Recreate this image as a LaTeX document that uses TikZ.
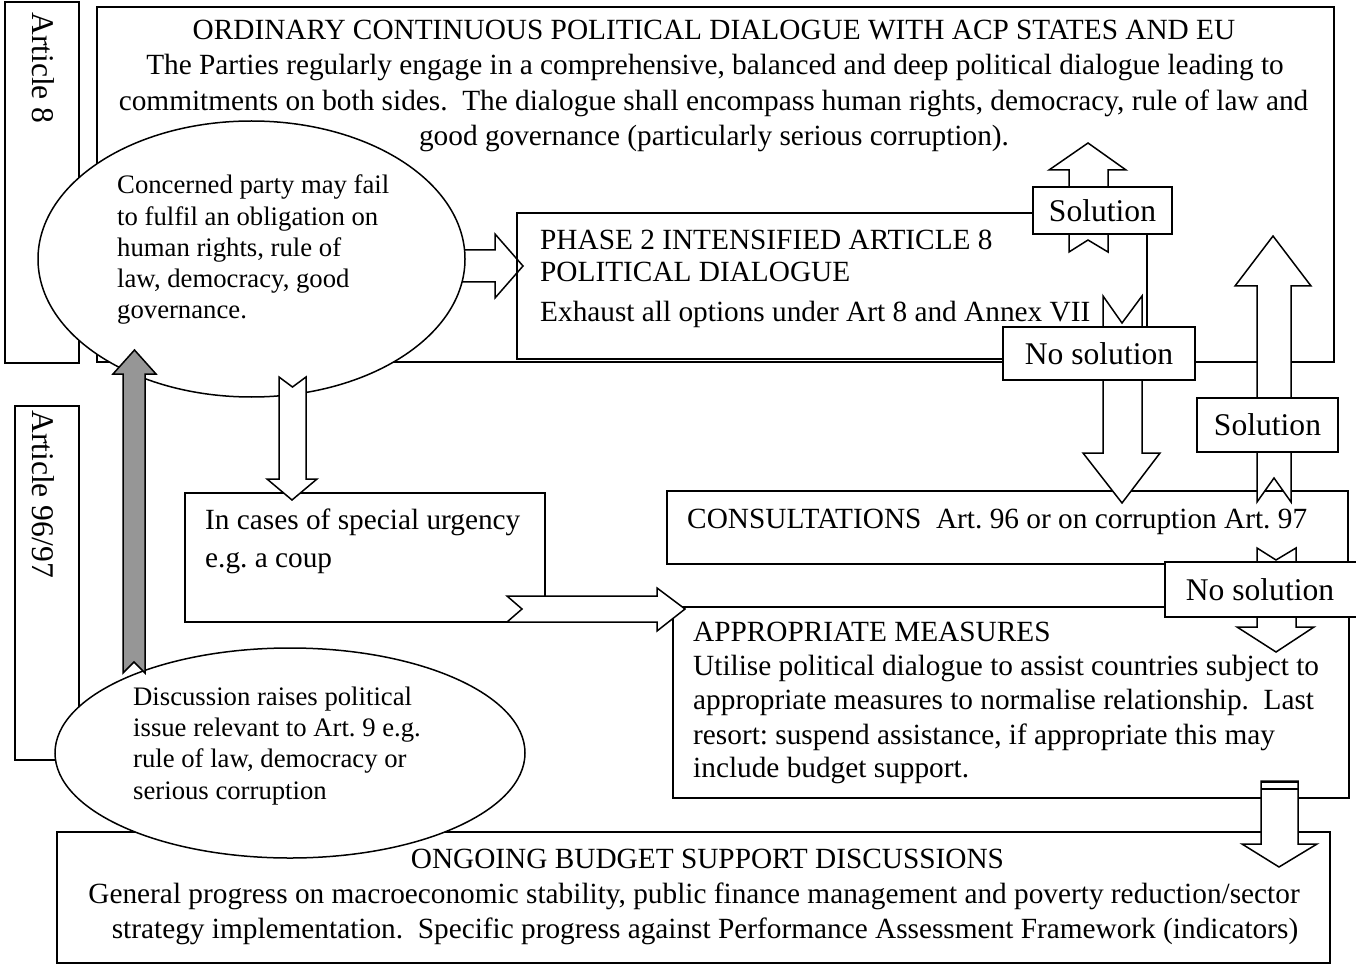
\documentclass[tikz,border=0pt]{standalone}
\usepackage{fontspec}
\setmainfont{Liberation Serif}
\usetikzlibrary{shapes.geometric,fit}
\definecolor{arrgrey}{RGB}{150,150,150}
\frenchspacing
\begin{document}
\begin{tikzpicture}[x=1pt,y=-1pt,
  box/.style={draw, line width=1.5pt, inner sep=0pt, outer sep=0pt},
  blk/.style={draw, line width=1.5pt, fill=white, line join=miter},
  oval/.style={ellipse, draw, fill=white, line width=1.5pt, inner sep=0pt},
  big/.style={font=\fontsize{29.3}{35}\selectfont, inner sep=0pt},
  small/.style={font=\fontsize{26.7}{30}\selectfont, inner sep=0pt},
  lab/.style={font=\fontsize{31.6}{38}\selectfont, inner sep=0pt},
  tag/.style={box, fill=white, lab}]
\useasboundingbox (0,0) rectangle (1356,965);

% main frames
\node[box, fit={(97,7) (1334,362)}] (main) {};
\node[box, fit={(5,2) (79,363)}] (art8) {};
\node[box, fit={(15,406) (79,760)}] (art96) {};

% arrow ellipse -> phase 2
\path[blk] (440,250) -- (495,250) -- (495,234) -- (523,266) -- (495,298) -- (495,282) -- (440,282) -- cycle;
\node[box, fit={(517,213) (1147,359)}] (phase) {};

% upper ellipse
\node[oval, minimum width=427pt, minimum height=276pt] (e1) at (251.5,259) {};

% lower boxes
\node[box, fit={(185,493) (545,622)}] (urg) {};
\node[box, fit={(667,491) (1348,564)}] (cons) {};
\node[box, fit={(673,607) (1349,798)}] (appr) {};
\node[box, fit={(57,832) (1330,963)}] (ongo) {};

% down arrow ellipse -> urgency
\path[blk] (279,377) -- (292.5,387) -- (306,377) -- (306,479) -- (317,479) -- (292,500) -- (267,479) -- (279,479) -- cycle;

% lower ellipse
\node[oval, minimum width=470pt, minimum height=210pt] (e2) at (290,753) {};

% grey arrow
\path[blk, fill=arrgrey] (123,673) -- (134,662) -- (145,673) -- (145,374) -- (156,374) -- (134.5,350) -- (113,374) -- (123,374) -- cycle;

% chevron arrow urgency -> appropriate measures
\path[blk] (507,596) -- (657,596) -- (657,588) -- (685,609) -- (657,631) -- (657,622) -- (507,622) -- (522,609) -- cycle;

% solution / no solution arrows
\path[blk] (1069,252) -- (1088,240) -- (1108,252) -- (1108,170) -- (1126,170) -- (1088,143) -- (1049,170) -- (1069,170) -- cycle;
\path[blk] (1103,296) -- (1122,323) -- (1142,296) -- (1142,453) -- (1160,453) -- (1122,503) -- (1083,453) -- (1103,453) -- cycle;
\path[blk] (1257,502) -- (1274,478) -- (1291,502) -- (1291,286) -- (1311,286) -- (1273,236) -- (1235,286) -- (1257,286) -- cycle;
\path[blk] (1257,548) -- (1276,560) -- (1296,548) -- (1296,627) -- (1314,627) -- (1276,652) -- (1237,627) -- (1257,627) -- cycle;

% arrow appropriate measures -> ongoing
\path[blk] (1261,781) -- (1298,781) -- (1298,844) -- (1317,844) -- (1279,867) -- (1242,844) -- (1261,844) -- cycle;
\draw[line width=2.6pt] (1261,782) -- (1298,782);
\draw[line width=1.5pt] (1261,789) -- (1298,789);

% labels on arrows
\node[tag, minimum width=139pt, minimum height=47pt] (sol1) at (1102.5,210.5) {Solution};
\node[tag, minimum width=192pt, minimum height=53pt] (nos1) at (1099,353.5) {No solution};
\node[tag, minimum width=141pt, minimum height=54pt] (sol2) at (1267.5,425) {Solution};
\node[tag, minimum width=196pt, minimum height=55pt] (nos2) at (1263,589.5) {\hspace*{-6pt}No solution};

% vertical article labels
\node[lab, rotate=-90, anchor=base west] (a8t) at (32,12) {Article 8};
\node[lab, rotate=-90, anchor=base west] (a96t) at (32,410) {Article 96/97};

% main box text
\node[big, anchor=base] (m1) at (714,39.5) {ORDINARY CONTINUOUS POLITICAL DIALOGUE WITH ACP STATES AND EU};
\node[big, anchor=base] (m2) at (715,75) {The Parties regularly engage in a comprehensive, balanced and deep political dialogue leading to};
\node[big, anchor=base] (m3) at (713.5,110.5) {commitments on both sides.\ \ The dialogue shall encompass human rights, democracy, rule of law and};
\node[big, anchor=base] (m4) at (714,146) {good governance (particularly serious corruption).};

% ellipse 1 text
\node[small, anchor=base west] (c1) at (117,194) {Concerned party may fail};
\node[small, anchor=base west] (c2) at (117,225.25) {to fulfil an obligation on};
\node[small, anchor=base west] (c3) at (117,256.5) {human rights, rule of};
\node[small, anchor=base west] (c4) at (117,287.75) {law, democracy, good};
\node[small, anchor=base west] (c5) at (117,319) {governance.};

% phase 2 text
\node[big, anchor=base west] (p1) at (540,250) {PHASE 2 INTENSIFIED ARTICLE 8};
\node[big, anchor=base west] (p2) at (540,282) {POLITICAL DIALOGUE};
\node[big, anchor=base west] (p3) at (540,321) {Exhaust all options under Art 8 and Annex VII};

% urgency text
\node[big, anchor=base west] (u1) at (205,529) {In cases of special urgency};
\node[big, anchor=base west] (u2) at (205,567) {e.g. a coup};

% consultations text
\node[big, anchor=base west] (k1) at (687,528) {CONSULTATIONS\ \ Art. 96 or on corruption Art. 97};

% appropriate measures text
\node[big, anchor=base west] (r1) at (693,641) {APPROPRIATE MEASURES};
\node[big, anchor=base west] (r2) at (693,675) {Utilise political dialogue to assist countries subject to};
\node[big, anchor=base west] (r3) at (693,709) {appropriate measures to normalise relationship.\ \ Last};
\node[big, anchor=base west] (r4) at (693,744) {resort: suspend assistance, if appropriate this may};
\node[big, anchor=base west] (r5) at (693,777) {include budget support.};

% ellipse 2 text
\node[small, anchor=base west] (d1) at (133,705) {Discussion raises political};
\node[small, anchor=base west] (d2) at (133,736) {issue relevant to Art. 9 e.g.};
\node[small, anchor=base west] (d3) at (133,767) {rule of law, democracy or};
\node[small, anchor=base west] (d4) at (133,799) {serious corruption};

% ongoing text
\node[big, anchor=base] (g1) at (707.5,868) {ONGOING BUDGET SUPPORT DISCUSSIONS};
\node[big, anchor=base] (g2) at (694,903) {General progress on macroeconomic stability, public finance management and poverty reduction/sector};
\node[big, anchor=base] (g3) at (705,938) {strategy implementation.\ \ Specific progress against Performance Assessment Framework (indicators)};
\end{tikzpicture}
\end{document}
